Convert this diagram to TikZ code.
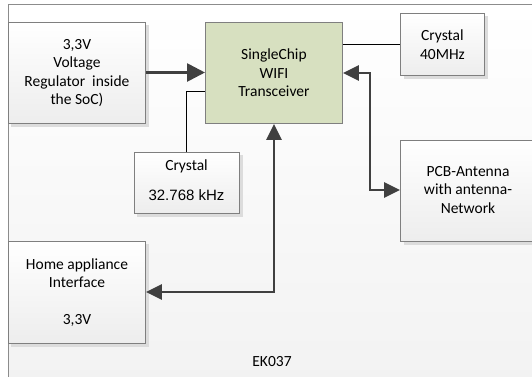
\documentclass[tikz,border=0pt]{standalone}
\usepackage{fontspec}
\setmainfont{Carlito}
\newfontfamily\arialf{Liberation Sans}
\usetikzlibrary{arrows.meta}
\definecolor{framefill}{HTML}{F2F2F2}
\definecolor{boxbot}{HTML}{EDEDED}
\definecolor{greenfill}{HTML}{D7E0C0}
\definecolor{linedark}{HTML}{404040}
\definecolor{bordergray}{HTML}{7F7F7F}
\definecolor{shadowgray}{HTML}{DCDCDC}
\tikzset{
  box/.style={draw=bordergray, line width=0.9pt, top color=white, bottom color=boxbot,
    align=center, inner sep=0pt, font=\fontsize{15.5}{18.5}\selectfont},
  greenbox/.style={box, top color=greenfill, bottom color=greenfill, fill=greenfill},
  thickarrow/.style={draw=linedark, line width=2.7pt, -{Triangle[length=18pt,width=18pt]}},
  dblarrow/.style={draw=linedark, line width=2.7pt, {Triangle[length=16pt,width=15pt]}-{Triangle[length=16pt,width=15pt]}},
  thinline/.style={draw=black, line width=0.9pt},
}
\begin{document}
\begin{tikzpicture}[x=1pt,y=-1pt]
\useasboundingbox (0,0) rectangle (532,376);
\begin{scope}
\clip (0,0) rectangle (532,376);
% outer frame
\node[draw=bordergray!90, line width=1pt, top color=white, bottom color=framefill,
  minimum width=530, minimum height=380, inner sep=0pt, anchor=north west] (frame) at (8,4) {};
% shadows
\fill[shadowgray] (11,25) rectangle (149,127);
\fill[shadowgray] (404,16) rectangle (488,79);
\fill[shadowgray] (137,155) rectangle (243,217);
\fill[shadowgray] (404,143) rectangle (540,245);
\fill[shadowgray] (11,244) rectangle (149,347);
% boxes
\node[box, minimum width=137, minimum height=101, anchor=north west] (vr) at (8,22)
  {3,3V\\Voltage\\Regulator~ inside\\the SoC)};
\node[greenbox, minimum width=137, minimum height=101, anchor=north west] (soc) at (205,22)
  {SingleChip\\WIFI\\Transceiver};
\node[box, minimum width=84, minimum height=62, anchor=north west] (x40) at (400,13)
  {Crystal\\40MHz};
\node[box, minimum width=105, minimum height=61, anchor=north west] (x32) at (134,152) {};
\node[font=\fontsize{15.5}{18.5}\selectfont] (x32a) at (186.5,166) {Crystal};
\node[font=\arialf\fontsize{15}{18}\selectfont] (x32b) at (186.5,195) {32.768 kHz};
\node[box, minimum width=140, minimum height=101, anchor=north west] (pcb) at (400,140) {};
\node[font=\fontsize{15.5}{18.5}\selectfont, align=center] (pcbt) at (468,190)
  {PCB-Antenna\\with antenna-\\Network};
\node[box, minimum width=137, minimum height=102, anchor=north west] (home) at (8,241) {};
\node[font=\fontsize{15.5}{18.5}\selectfont, align=center] (homet) at (77,273)
  {Home appliance\\Interface};
\node[font=\fontsize{15.5}{18.5}\selectfont] (homev) at (77,320) {3,3V};
\node[font=\fontsize{15.5}{18.5}\selectfont] (ek) at (272,362) {EK037};
% connectors
\coordinate (c1) at (186,91);
\draw[thinline] (x32.north -| c1) -- (c1) -- (c1 -| soc.west);
\draw[thinline] (soc.east |- x40.west) -- (x40.west);
\draw[thickarrow] (vr.east |- 0,72.5) -- (soc.west |- 0,72.5);
\coordinate (c2) at (370,73);
\coordinate (c3) at (370,190);
\draw[dblarrow] (soc.east |- c2) -- (c2) -- (c3) -- (pcb.west |- c3);
\coordinate (c4) at (274,292);
\draw[dblarrow] (soc.south -| c4) -- (c4) -- (home.east |- c4);
\end{scope}
\end{tikzpicture}
\end{document}
